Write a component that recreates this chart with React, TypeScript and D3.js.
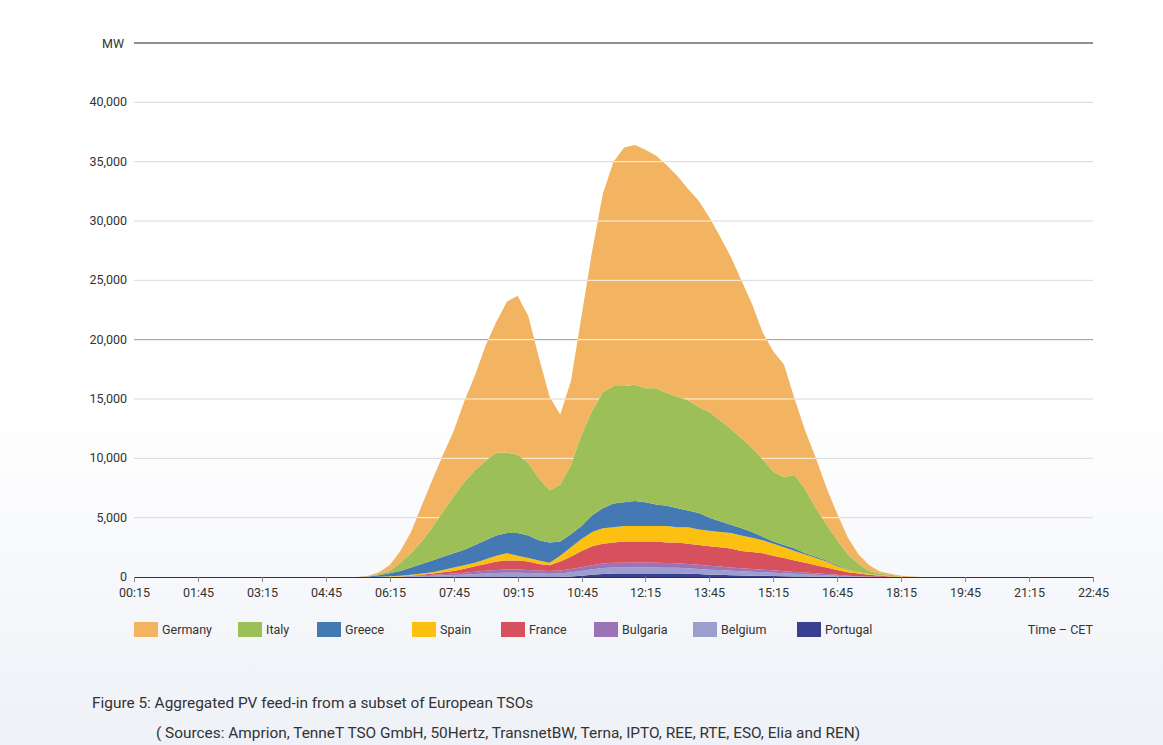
import { useEffect, useRef } from "react";
import * as d3 from "d3";

const times = [
  "05:30", "05:45", "06:00", "06:15", "06:30", "06:45", "07:00", "07:15", "07:30", "07:45",
  "08:00", "08:15", "08:30", "08:45", "09:00", "09:15", "09:30", "09:45", "10:00", "10:15",
  "10:30", "10:45", "11:00", "11:15", "11:30", "11:45", "12:00", "12:15", "12:30", "12:45",
  "13:00", "13:15", "13:30", "13:45", "14:00", "14:15", "14:30", "14:45", "15:00", "15:15",
  "15:30", "15:45", "16:00", "16:15", "16:30", "16:45", "17:00", "17:15", "17:30", "17:45",
  "18:00", "18:15", "18:30", "18:45",
];

const portugal = [
  0, 0, 0, 0, 0, 0, 0, 0, 0, 0, 0, 0, 0, 0, 0, 0, 0, 0, 0, 0,
  50, 100, 200, 250, 300, 300, 300, 300, 300, 300, 300, 280, 250, 200, 180, 150, 130, 110, 100, 80,
  60, 50, 40, 30, 20, 10, 0, 0, 0, 0, 0, 0, 0, 0,
];
const belgium = [
  0, 0, 0, 10, 20, 40, 60, 100, 130, 170, 200, 250, 300, 330, 350, 350, 330, 300, 280, 300,
  350, 400, 450, 500, 500, 500, 500, 500, 500, 480, 470, 450, 430, 420, 400, 380, 350, 330, 300, 280,
  250, 220, 200, 170, 130, 100, 60, 40, 20, 10, 0, 0, 0, 0,
];
const bulgaria = [
  0, 0, 0, 10, 20, 40, 60, 80, 100, 130, 160, 200, 230, 260, 280, 280, 270, 250, 230, 250,
  280, 320, 350, 380, 400, 400, 420, 420, 400, 400, 380, 370, 350, 330, 300, 280, 260, 240, 220, 200,
  180, 160, 140, 120, 100, 80, 50, 30, 20, 10, 0, 0, 0, 0,
];
const france = [
  0, 0, 0, 10, 10, 20, 80, 120, 170, 200, 340, 450, 570, 710, 770, 770, 700, 550, 490, 750,
  1020, 1380, 1600, 1670, 1700, 1800, 1780, 1780, 1800, 1720, 1750, 1700, 1670, 1650, 1620, 1590, 1460, 1420, 1380, 1240,
  1110, 970, 820, 680, 550, 410, 290, 230, 160, 80, 50, 0, 0, 0,
];
const spain = [
  0, 0, 20, 30, 50, 100, 100, 100, 200, 300, 300, 300, 400, 500, 600, 400, 300, 300, 200, 500,
  800, 1000, 1200, 1300, 1300, 1300, 1300, 1300, 1300, 1400, 1300, 1400, 1300, 1300, 1300, 1300, 1300, 1200, 1100, 1000,
  900, 800, 700, 600, 500, 300, 200, 100, 50, 50, 30, 0, 0, 0,
];
const greece = [
  0, 50, 130, 250, 400, 600, 800, 1000, 1100, 1200, 1300, 1500, 1600, 1700, 1700, 1900, 1900, 1700, 1700, 1200,
  1100, 1100, 1400, 1700, 2000, 2000, 2100, 2000, 1800, 1700, 1600, 1400, 1400, 1100, 900, 700, 600, 500, 300, 200,
  200, 200, 100, 100, 100, 100, 0, 0, 0, 0, 0, 0, 0, 0,
];
const italy = [
  0, 0, 100, 200, 700, 1200, 1900, 2800, 3800, 4800, 5700, 6300, 6700, 7000, 6800, 6600, 6100, 5200, 4400, 4800,
  5800, 7700, 8800, 9800, 9900, 9800, 9800, 9600, 9800, 9500, 9400, 9300, 8900, 8900, 8500, 8100, 7600, 7100, 6500, 5900,
  5700, 6200, 5400, 4100, 3000, 2100, 1300, 700, 250, 120, 100, 0, 0, 0,
];
const germany = [
  0, 50, 150, 500, 1000, 1800, 3000, 4000, 4800, 5500, 6800, 8000, 9700, 11000, 12700, 13400, 12400, 10200, 7900, 5900,
  7100, 10000, 13500, 16700, 18900, 20100, 20200, 20100, 19600, 19200, 18600, 17800, 17400, 16400, 15500, 14500, 13300, 12100, 10700, 10100,
  9500, 6400, 4900, 4200, 3100, 2200, 1400, 800, 500, 200, 100, 100, 50, 0,
];

// bottom to top
const seriesNames = ["Portugal", "Belgium", "Bulgaria", "France", "Spain", "Greece", "Italy", "Germany"];
const seriesValues = [portugal, belgium, bulgaria, france, spain, greece, italy, germany];
const seriesColors = ["#3b3f8f", "#9a9fd0", "#9c73b5", "#d6505e", "#fcc010", "#4479b4", "#9cbf58", "#f2b461"];

const legendOrder = ["Germany", "Italy", "Greece", "Spain", "France", "Bulgaria", "Belgium", "Portugal"];
const legendX = [134, 238, 317, 412, 501, 594, 693, 797];

const xTicks = ["00:15", "01:45", "03:15", "04:45", "06:15", "07:45", "09:15", "10:45", "12:15", "13:45", "15:15", "16:45", "18:15", "19:45", "21:15", "22:45"];
const yTicks = [0, 5000, 10000, 15000, 20000, 25000, 30000, 35000, 40000];

const toMin = (t: string) => {
  const [h, m] = t.split(":").map(Number);
  return h * 60 + m;
};

const FONT = "'Liberation Sans Narrow', 'Roboto', sans-serif";

export default function App() {
  const svgRef = useRef<SVGSVGElement>(null);

  useEffect(() => {
    document.body.style.margin = "0";
    const W = 1163, H = 745;
    const svg = d3.select(svgRef.current!).attr("width", W).attr("height", H);
    svg.selectAll("*").remove();

    const defs = svg.append("defs");
    const grad = defs.append("linearGradient").attr("id", "bg").attr("x1", 0).attr("y1", 0).attr("x2", 0).attr("y2", 1);
    grad.append("stop").attr("offset", "0.55").attr("stop-color", "#ffffff");
    grad.append("stop").attr("offset", "1").attr("stop-color", "#eef1f7");
    svg.append("rect").attr("width", W).attr("height", H).attr("fill", "url(#bg)");

    const x = d3.scaleLinear().domain([toMin("00:15"), toMin("22:45")]).range([134, 1093]);
    const y = d3.scaleLinear().domain([0, 45000]).range([577, 43]);

    const rows = times.map((t, i) => {
      const r: Record<string, number> = { t: toMin(t) };
      seriesNames.forEach((n, k) => (r[n] = seriesValues[k][i]));
      return r;
    });
    const stacked = d3.stack<Record<string, number>>().keys(seriesNames)(rows);

    // gridlines
    yTicks.forEach((v) => {
      if (v === 0) return;
      svg.append("line").attr("x1", 134).attr("x2", 1093).attr("y1", y(v)).attr("y2", y(v))
        .attr("stroke", v === 20000 ? "#9a9a9a" : "#d9d9d9").attr("stroke-width", 1);
    });

    const area = d3.area<d3.SeriesPoint<Record<string, number>>>()
      .x((d) => x(d.data.t)).y0((d) => y(d[0])).y1((d) => y(d[1]));

    svg.append("g").selectAll("path").data(stacked).enter().append("path")
      .attr("d", area).attr("fill", (_d, i) => seriesColors[i]);

    // white gridlines over the areas
    defs.append("clipPath").attr("id", "areaClip").append("path").attr("d", area(stacked[stacked.length - 1]) ?? "");
    const gw = svg.append("g").attr("clip-path", "url(#areaClip)");
    yTicks.forEach((v) => {
      if (v === 0) return;
      gw.append("line").attr("x1", 134).attr("x2", 1093).attr("y1", y(v)).attr("y2", y(v))
        .attr("stroke", "#ffffff").attr("stroke-opacity", 0.85).attr("stroke-width", 1);
    });

    // top line + MW
    svg.append("line").attr("x1", 134).attr("x2", 1093).attr("y1", y(45000)).attr("y2", y(45000)).attr("stroke", "#222");
    svg.append("text").attr("x", 124).attr("y", y(45000) + 5).attr("text-anchor", "end")
      .attr("font-family", FONT).attr("font-size", 12.5).attr("fill", "#333").text("MW");

    // y labels
    yTicks.forEach((v) => {
      svg.append("text").attr("x", 127).attr("y", y(v) + 4).attr("text-anchor", "end")
        .attr("font-family", FONT).attr("font-size", 12.5).attr("fill", "#333").text(d3.format(",")(v));
    });

    // x axis
    svg.append("line").attr("x1", 134).attr("x2", 1093).attr("y1", 577.5).attr("y2", 577.5).attr("stroke", "#333");
    xTicks.forEach((t) => {
      const px = Math.round(x(toMin(t))) + 0.5;
      svg.append("line").attr("x1", px).attr("x2", px).attr("y1", 577).attr("y2", 582).attr("stroke", "#888");
      svg.append("text").attr("x", px).attr("y", 597).attr("text-anchor", "middle")
        .attr("font-family", FONT).attr("font-size", 12.5).attr("fill", "#333").text(t);
    });

    // legend
    legendOrder.forEach((n, i) => {
      const c = seriesColors[seriesNames.indexOf(n)];
      svg.append("rect").attr("x", legendX[i]).attr("y", 622).attr("width", 24).attr("height", 15).attr("fill", c);
      svg.append("text").attr("x", legendX[i] + 28).attr("y", 634).attr("font-family", FONT)
        .attr("font-size", 12.5).attr("fill", "#333").text(n);
    });
    svg.append("text").attr("x", 1093).attr("y", 634).attr("text-anchor", "end").attr("font-family", FONT)
      .attr("font-size", 12.5).attr("fill", "#333").text("Time – CET");

    // caption
    svg.append("text").attr("x", 92).attr("y", 708).attr("font-family", FONT).attr("font-size", 15.4)
      .attr("fill", "#333").text("Figure 5: Aggregated PV feed-in from a subset of European TSOs");
    svg.append("text").attr("x", 156).attr("y", 738).attr("font-family", FONT).attr("font-size", 15.4)
      .attr("fill", "#333").text("( Sources: Amprion, TenneT TSO GmbH, 50Hertz, TransnetBW, Terna, IPTO, REE, RTE, ESO, Elia and REN)");
  }, []);

  return <svg ref={svgRef} style={{ display: "block" }} />;
}
